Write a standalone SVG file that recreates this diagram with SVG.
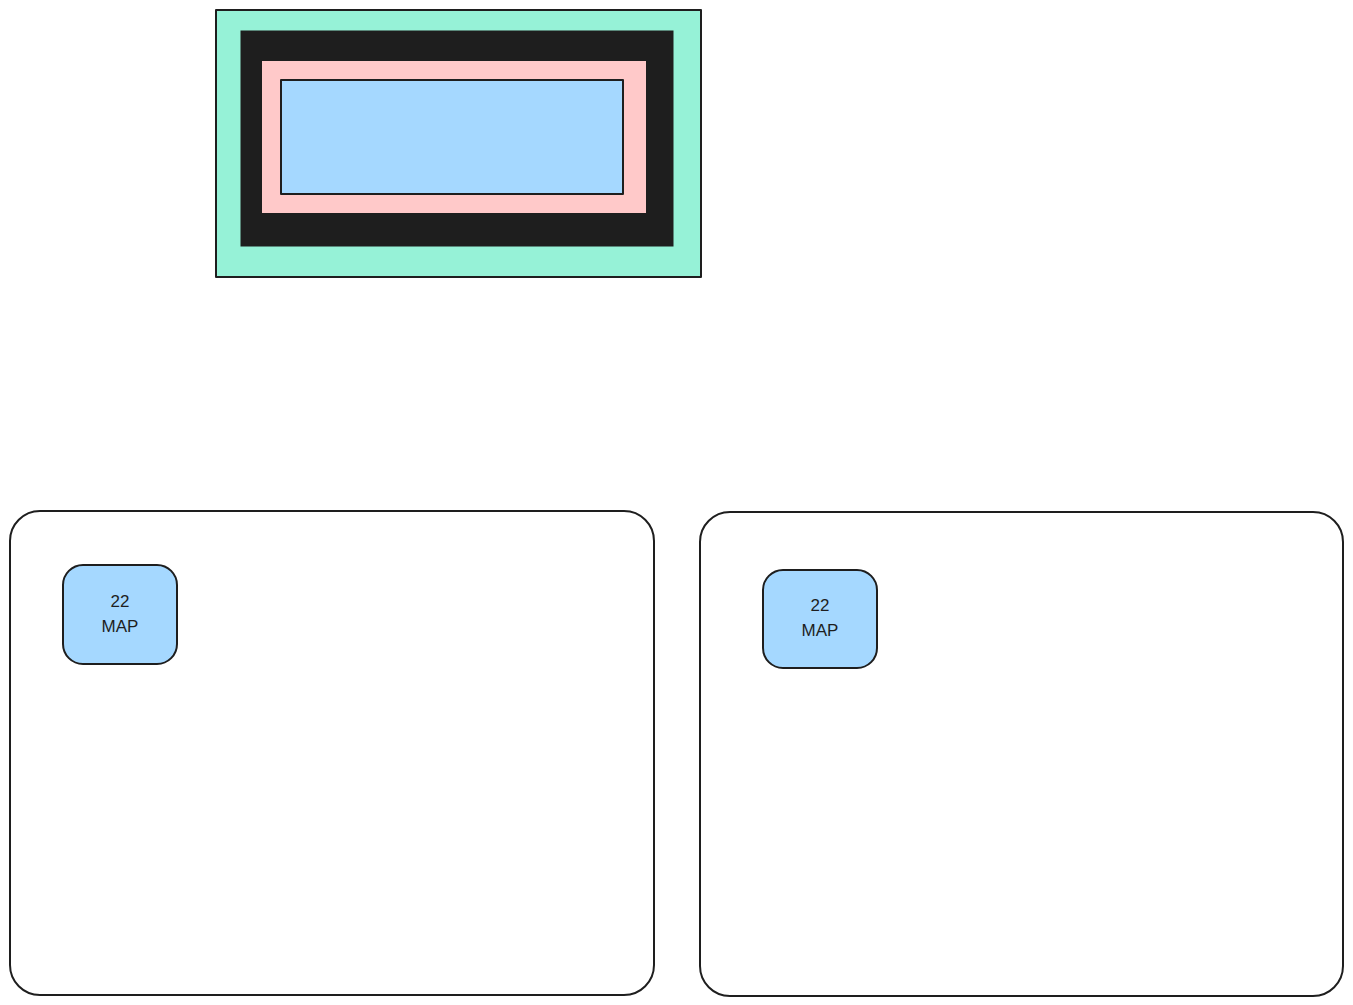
<svg xmlns="http://www.w3.org/2000/svg" width="1353" height="1005" viewBox="0 0 1353 1005">
<style>
.s{stroke:#1e1e1e;stroke-width:2;stroke-linejoin:round}
.t{font-family:"Liberation Sans",Arial,sans-serif;font-size:17px;fill:#1e1e1e;text-anchor:middle}
</style>
<rect width="1353" height="1005" fill="#ffffff"/>
<g id="outer-frame"><rect class="s" x="216" y="10" width="485" height="267" fill="#96f2d7"/></g>
<g id="dark-frame"><rect x="241" y="31" width="432" height="215" fill="#1e1e1e" stroke="#1e1e1e" stroke-width="1"/></g>
<g id="pink-frame"><rect x="262" y="61" width="384" height="152" fill="#ffc9c9"/></g>
<g id="blue-box"><rect class="s" x="281" y="80" width="342" height="114" fill="#a5d8ff"/></g>
<g id="container-left"><rect class="s" x="10" y="511" width="644" height="484" rx="30" fill="#ffffff"/></g>
<g id="container-right"><rect class="s" x="700" y="512" width="643" height="484" rx="30" fill="#ffffff"/></g>
<g id="node-left">
<rect class="s" x="63" y="565" width="114" height="99" rx="20" fill="#a5d8ff"/>
<text class="t" x="120" y="607">22</text>
<text class="t" x="120" y="632">MAP</text>
</g>
<g id="node-right">
<rect class="s" x="763" y="570" width="114" height="98" rx="20" fill="#a5d8ff"/>
<text class="t" x="820" y="611">22</text>
<text class="t" x="820" y="636">MAP</text>
</g>
<g id="connectors"></g>
</svg>
